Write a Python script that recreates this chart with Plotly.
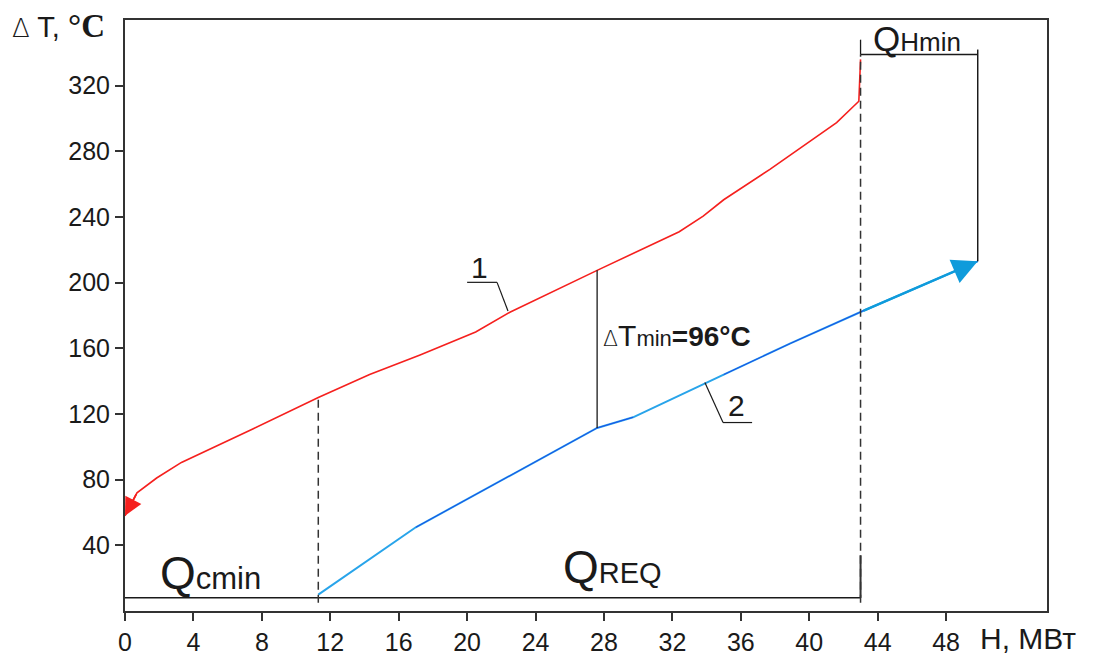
import plotly.graph_objects as go

# ---------------- data ----------------
hot_H = [0, 0.7, 1.85, 3.3, 7.5, 11.3, 14.3, 17.25, 20.5, 22.5, 27.6, 32.4, 33.8, 35.0, 37.7, 41.6, 42.9, 43.0]
hot_T = [58, 72, 81, 90.5, 111, 130, 144, 156, 170, 182, 207.5, 231, 240.5, 250.5, 269, 297.5, 310.5, 336]

cold_H = [11.3, 17.0, 27.6, 29.7, 35.0, 38.9, 43.1, 49.85]
cold_T = [10, 51, 111.5, 118, 144, 163, 182.6, 213]

x_ticks = [0, 4, 8, 12, 16, 20, 24, 28, 32, 36, 40, 44, 48]
y_ticks = [40, 80, 120, 160, 200, 240, 280, 320]

base_T = 8          # level of the Q line at the bottom
bracket_T = 339     # level of the Q_Hmin bracket
pinch_hot = 10      # index in hot arrays of the pinch
pinch_cold = 2      # index in cold arrays of the pinch

RED = "#F5201E"
BLUE_LIGHT = "#28A4EA"
BLUE_DARK = "#1C4CE8"
ARROW_BLUE = "#0F9BDB"
BLACK = "#1a1a1a"
FONT = "Arial, Liberation Sans, sans-serif"

Qc = cold_H[0]
Qh = hot_H[-1]
Qend = cold_H[-1]

fig = go.Figure()

# hot stream (1)
fig.add_trace(go.Scatter(x=hot_H, y=hot_T, mode="lines",
                         line=dict(color=RED, width=1.6), hoverinfo="skip"))
# cold stream (2) base
fig.add_trace(go.Scatter(x=cold_H, y=cold_T, mode="lines",
                         line=dict(color=BLUE_LIGHT, width=2.0), hoverinfo="skip"))
# darker overlays
fig.add_trace(go.Scatter(x=cold_H[1:4], y=cold_T[1:4], mode="lines",
                         line=dict(color=BLUE_DARK, width=1.0), hoverinfo="skip"))
fig.add_trace(go.Scatter(x=cold_H[4:], y=cold_T[4:], mode="lines",
                         line=dict(color=BLUE_DARK, width=1.0), hoverinfo="skip"))

shapes = []
def seg(x0, y0, x1, y1, dash="solid", width=1.5, color=BLACK):
    shapes.append(dict(type="line", xref="x", yref="y", x0=x0, y0=y0, x1=x1, y1=y1,
                       line=dict(color=color, width=width, dash=dash)))

# bottom Q line
seg(0, base_T, Qh, base_T)
# dashed verticals
seg(Qc, 5, Qc, hot_T[5], dash="8px,5px", color="#333")
seg(Qh, 5, Qh, bracket_T, dash="8px,5px", color="#333")
seg(Qh, base_T, Qh, 34, width=2, color="#333")
seg(Qh, bracket_T, Qh, 348, width=1.3)
# Q_Hmin bracket
seg(Qh, bracket_T, Qend, bracket_T, width=1.3)
seg(Qend, cold_T[-1], Qend, 342, width=1.5)
# delta T min line
seg(hot_H[pinch_hot], cold_T[pinch_cold], hot_H[pinch_hot], hot_T[pinch_hot], width=1.3)
# leader 1
seg(22.39, 182.7, 21.75, 200.2, width=1.2)
seg(21.75, 200.2, 20.0, 200.2, width=1.2)
# leader 2
seg(33.9, 139.2, 34.96, 114.8, width=1.2)
seg(34.96, 114.8, 36.66, 114.8, width=1.2)

annotations = []
# arrowheads
annotations.append(dict(x=hot_H[0], y=hot_T[0], ax=hot_H[1], ay=hot_T[1], xref="x", yref="y",
                        axref="x", ayref="y", text="", showarrow=True, arrowhead=2,
                        arrowsize=2.0, arrowwidth=1.8, arrowcolor=RED, standoff=0))
annotations.append(dict(x=cold_H[-1], y=cold_T[-1], ax=cold_H[-2], ay=cold_T[-2], xref="x", yref="y",
                        axref="x", ayref="y", text="", showarrow=True, arrowhead=2,
                        arrowsize=2.1, arrowwidth=2.4, arrowcolor=ARROW_BLUE, standoff=0))

def txt(x, y, text, size=24, xanchor="left", xref="x", yref="y", color=BLACK):
    annotations.append(dict(x=x, y=y, xref=xref, yref=yref, text=text, showarrow=False,
                            xanchor=xanchor, yanchor="middle",
                            font=dict(family=FONT, size=size, color=color)))

DELTA = '<span style="font-family:DejaVu Sans;font-weight:200;font-size:{}px">∆</span>'

txt(20.7, 209, "1", size=30, xanchor="center")
txt(35.75, 125, "2", size=30, xanchor="center")
txt(27.85, 168,
    DELTA.format(22) + '<span style="font-size:30px">T</span>'
    '<span style="font-size:22px">min</span><b>=96°C</b>', size=28)
txt(1.9, 23, '<span style="font-size:46px">Q</span><span style="font-size:31px">cmin</span>', size=31)
txt(25.5, 27, '<span style="font-size:46px">Q</span><span style="font-size:29px">REQ</span>', size=29)
txt(43.6, 349, '<span style="font-size:35px">Q</span><span style="font-size:26px">Hmin</span>', size=26)

# axis titles
txt(-0.125, 0.99,
    DELTA.format(26) + ' <span style="font-size:29px">T,</span> '
    '<span style="font-family:Liberation Serif;font-size:33px"><b>°C</b></span>',
    size=29, xref="paper", yref="paper")
txt(0.925, -0.047, 'H, МВт', size=30, xref="paper", yref="paper")

# page body has an 8px margin: offset the figure accordingly
fig.update_layout(
    width=1092, height=655,
    margin=dict(l=117, r=53, t=12, b=52, autoexpand=False),
    plot_bgcolor="white", paper_bgcolor="white",
    showlegend=False,
    shapes=shapes, annotations=annotations,
    font=dict(family=FONT, color="#222"),
)
fig.update_xaxes(range=[0, 53.9], tickvals=x_ticks, ticktext=[str(v) for v in x_ticks],
                 showgrid=False, zeroline=False, showline=True, linecolor="#333", linewidth=2,
                 mirror=True, ticks="outside", ticklen=8, tickwidth=1.5, tickcolor="#333",
                 automargin=False,
                 tickfont=dict(size=25, color="#1a1a1a", family=FONT))
fig.update_yaxes(range=[0, 360], tickvals=y_ticks, ticktext=[str(v) for v in y_ticks],
                 showgrid=False, zeroline=False, showline=True, linecolor="#333", linewidth=2,
                 mirror=True, ticks="outside", ticklen=8, tickwidth=1.5, tickcolor="#333",
                 automargin=False,
                 tickfont=dict(size=25, color="#1a1a1a", family=FONT))

fig.write_html("out.html")
